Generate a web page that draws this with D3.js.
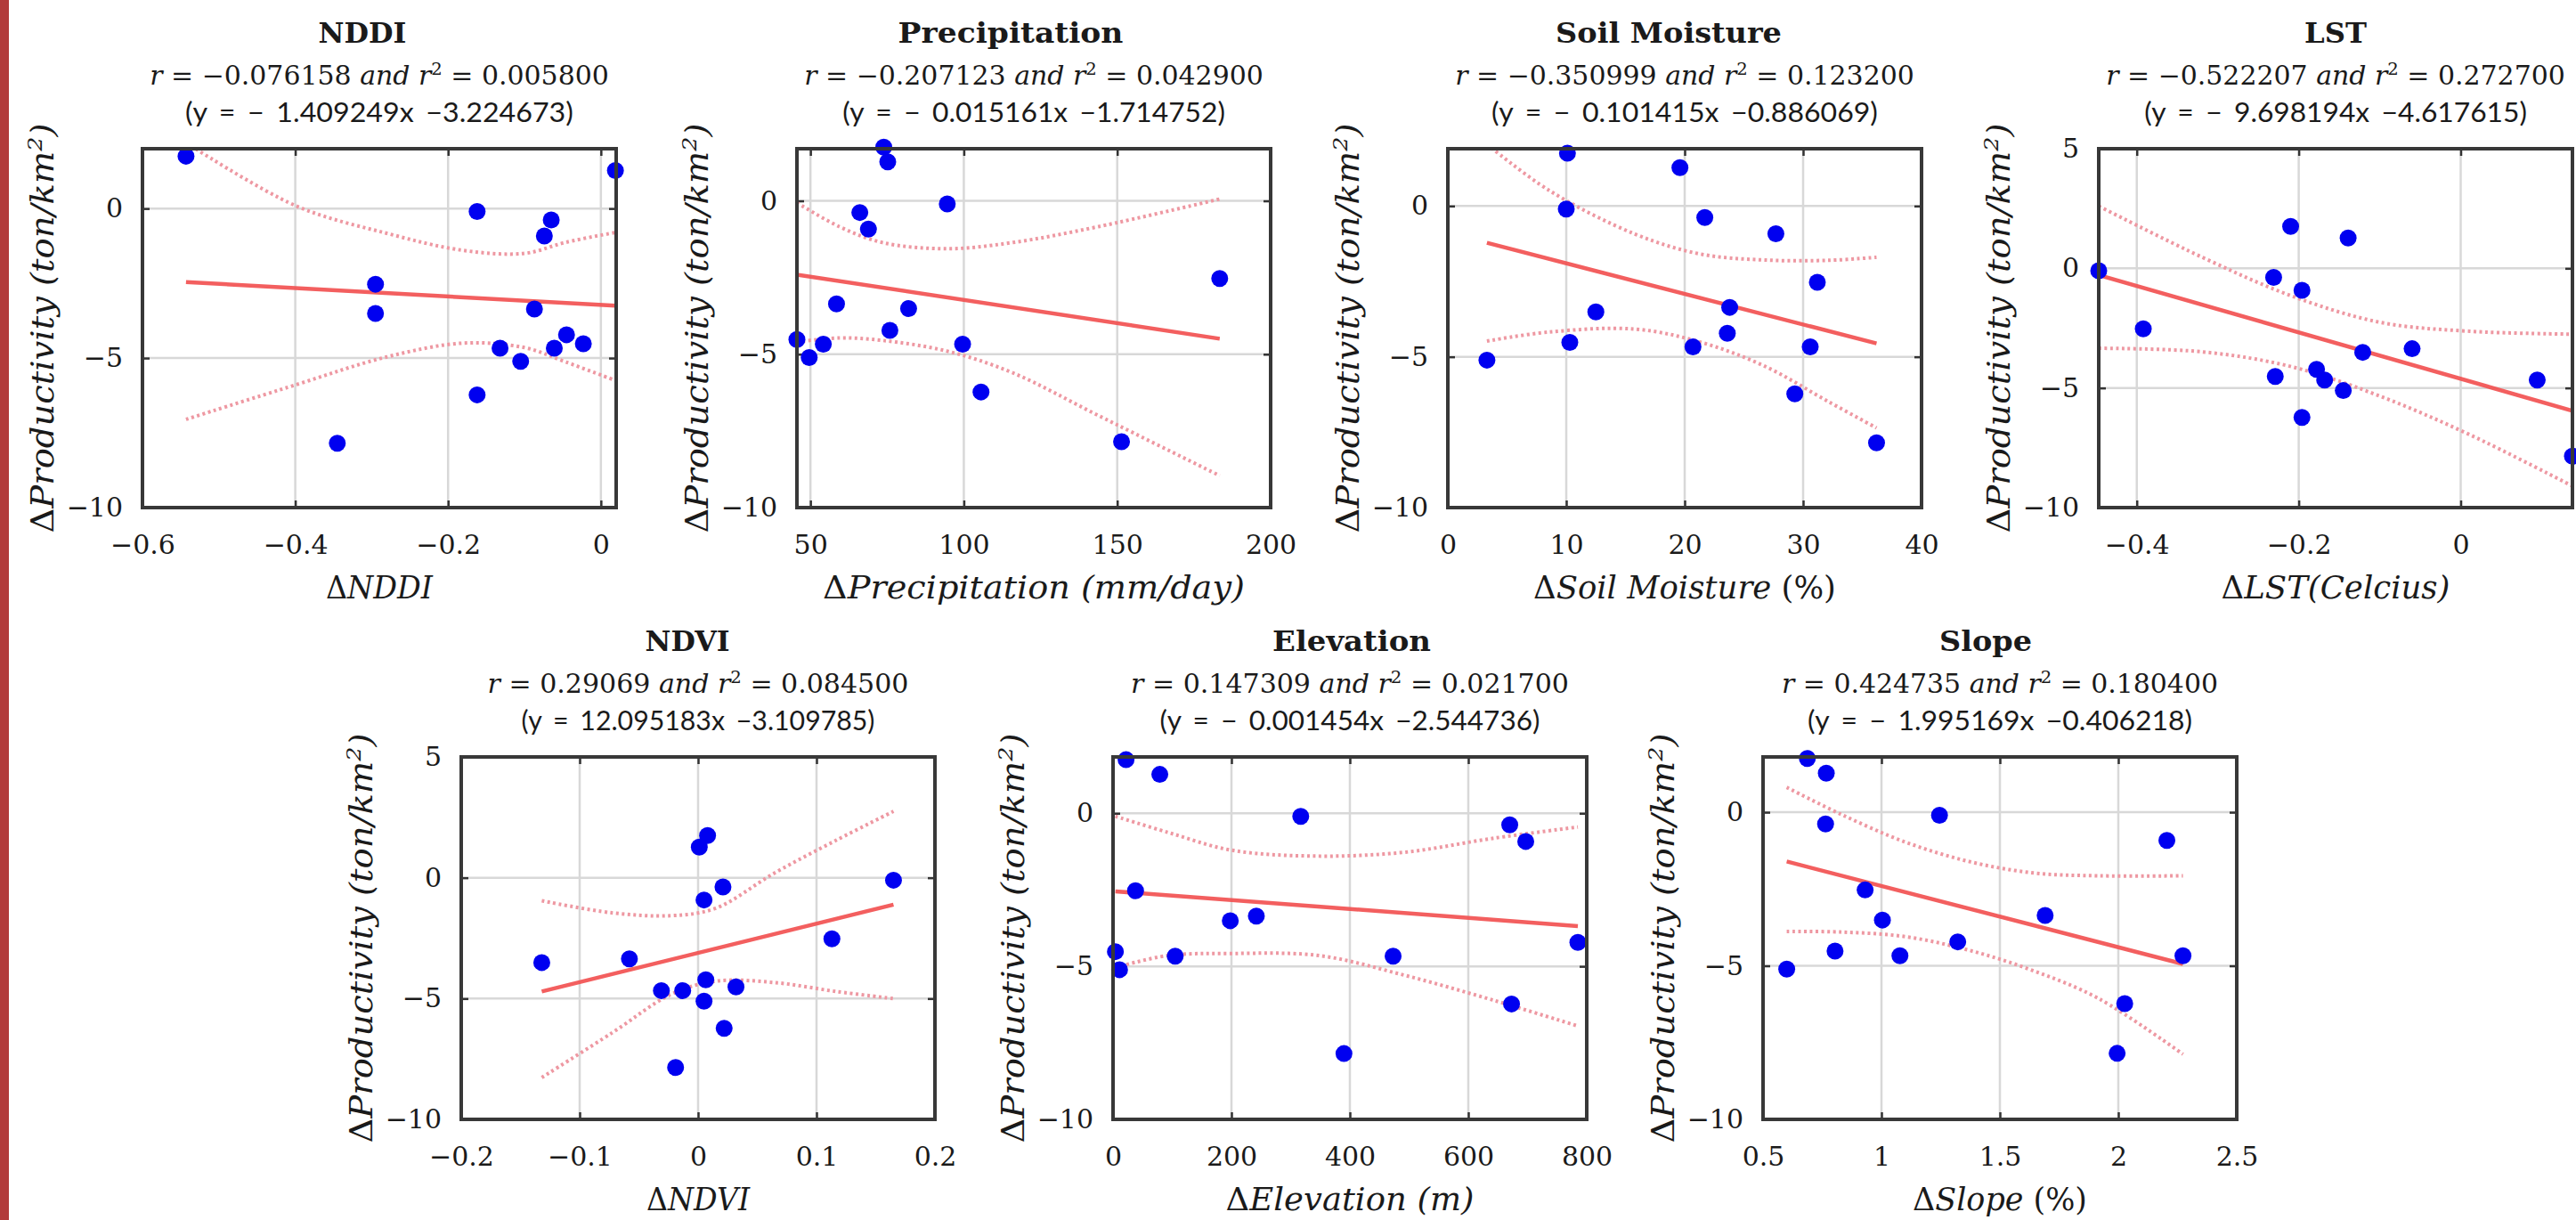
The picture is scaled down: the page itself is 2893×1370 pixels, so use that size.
<!DOCTYPE html>
<html>
<head>
<meta charset="utf-8">
<script src="https://cdn.jsdelivr.net/npm/d3@7"></script>
<style>
  html, body { margin: 0; padding: 0; background: #fff; }
  svg { display: block; }
  text { white-space: pre; }
</style>
</head>
<body>
<div id="chart"></div>
<script>
// ---- values ----
const titles = ["NDDI", "Precipitation", "Soil Moisture", "LST", "NDVI", "Elevation", "Slope"];
const rText = ["−0.076158", "−0.207123", "−0.350999", "−0.522207", "0.29069", "0.147309", "0.424735"];
const r2Text = ["0.005800", "0.042900", "0.123200", "0.272700", "0.084500", "0.021700", "0.180400"];
const slopes = [-1.409249, -0.015161, -0.101415, -9.698194, 12.095183, -0.001454, -1.995169];
const intercepts = [-3.224673, -1.714752, -0.886069, -4.617615, -3.109785, -2.544736, -0.406218];
const xLabelMain = ["NDDI", "Precipitation", "Soil Moisture", "LST", "NDVI", "Elevation", "Slope"];
const xLabelUnit = ["", " (mm/day)", " (%)", "(Celcius)", "", " (m)", " (%)"];

const xDomains = [[-0.6, 0.02], [45.6, 200], [0, 40], [-0.447, 0.138], [-0.2, 0.2], [0, 800], [0.5, 2.5]];
const yDomains = [[-10, 2], [-10, 1.7], [-10, 1.9], [-10, 5], [-10, 5], [-10, 1.84], [-10, 1.8]];
const xTickVals = [[-0.6, -0.4, -0.2, 0], [50, 100, 150, 200], [0, 10, 20, 30, 40], [-0.4, -0.2, 0],
                   [-0.2, -0.1, 0, 0.1, 0.2], [0, 200, 400, 600, 800], [0.5, 1, 1.5, 2, 2.5]];
const yTickVals = [[-10, -5, 0], [-10, -5, 0], [-10, -5, 0], [-10, -5, 0, 5], [-10, -5, 0, 5], [-10, -5, 0], [-10, -5, 0]];

// scatter points (x = change of the variable, y = change of productivity)
const nddiX = [-0.543, 0.019, -0.162, -0.065, -0.074, -0.295, -0.295, -0.087, -0.132, -0.105, -0.045, -0.023, -0.061, -0.162, -0.345];
const nddiY = [1.75, 1.27, -0.10, -0.38, -0.92, -2.53, -3.51, -3.36, -4.67, -5.11, -4.22, -4.52, -4.67, -6.23, -7.85];
const precipX = [73.9, 75.2, 94.6, 66.1, 68.9, 183.4, 58.5, 82.0, 75.9, 45.6, 49.6, 54.2, 99.6, 105.6, 151.4];
const precipY = [1.75, 1.27, -0.10, -0.38, -0.92, -2.53, -3.36, -3.51, -4.22, -4.52, -5.11, -4.67, -4.67, -6.23, -7.85];
const soilX = [10.1, 19.6, 10.0, 21.7, 27.7, 31.2, 12.5, 23.8, 23.6, 3.3, 10.3, 20.7, 30.6, 29.3, 36.2];
const soilY = [1.75, 1.27, -0.10, -0.38, -0.92, -2.53, -3.51, -3.36, -4.22, -5.11, -4.52, -4.67, -4.67, -6.23, -7.85];
const lstX = [-0.210, -0.139, -0.231, -0.196, -0.392, -0.121, -0.060, -0.178, -0.229, -0.168, -0.145, -0.196, 0.0945, 0.138, -0.447];
const lstY = [1.75, 1.27, -0.38, -0.92, -2.53, -3.51, -3.36, -4.22, -4.52, -4.67, -5.11, -6.23, -4.67, -7.85, -0.10];
const ndviX = [0.008, 0.001, 0.021, 0.005, 0.113, -0.132, -0.058, 0.0065, -0.031, -0.013, 0.032, 0.005, 0.022, -0.019, 0.165];
const ndviY = [1.75, 1.27, -0.38, -0.92, -2.53, -3.51, -3.36, -4.22, -4.67, -4.67, -4.52, -5.11, -6.23, -7.85, -0.10];
const elevX = [22, 79, 317, 670, 697, 38, 198, 242, 785, 4, 105, 473, 11, 673, 390];
const elevY = [1.75, 1.27, -0.10, -0.38, -0.92, -2.53, -3.51, -3.36, -4.22, -4.52, -4.67, -4.67, -5.11, -6.23, -7.85];
const slopeX = [0.687, 0.767, 1.245, 0.764, 2.205, 0.931, 1.004, 1.691, 1.322, 0.804, 1.078, 2.273, 0.6, 2.027, 1.995];
const slopeY = [1.75, 1.27, -0.10, -0.38, -0.92, -2.53, -3.51, -3.36, -4.22, -4.52, -4.67, -4.67, -5.11, -6.23, -7.85];

// dotted confidence bounds, read at a few x positions
const nddiBandX = [-0.543, -0.4, -0.28, -0.18, -0.1, -0.046, 0.019];
const nddiBandHi = [2.2, 0.1, -0.83, -1.4, -1.5, -1.13, -0.8];
const nddiBandLo = [-7.05, -5.9, -4.96, -4.5, -4.65, -5.13, -5.75];
const precipBandX = [45.6, 59.4, 73.5, 94.6, 115.8, 143.9, 183.4];
const precipBandHi = [-0.06, -0.84, -1.36, -1.56, -1.36, -0.84, 0.06];
const precipBandLo = [-4.6, -4.47, -4.55, -4.9, -5.6, -7.0, -8.96];
const soilBandX = [3.3, 8.5, 15.8, 21.3, 26.7, 32.2, 36.2];
const soilBandHi = [2.05, 0.53, -0.93, -1.59, -1.79, -1.8, -1.70];
const soilBandLo = [-4.48, -4.18, -4.08, -4.51, -5.3, -6.5, -7.36];
const lstBandX = [-0.447, -0.319, -0.209, -0.099, 0.011, 0.138];
const lstBandHi = [2.6, 0.46, -1.15, -2.26, -2.63, -2.75];
const lstBandLo = [-3.34, -3.49, -4.11, -5.35, -6.95, -9.1];
const ndviBandX = [-0.132, -0.073, -0.023, 0.0145, 0.065, 0.117, 0.165];
const ndviBandHi = [-0.95, -1.45, -1.57, -1.27, 0.21, 1.56, 2.75];
const ndviBandLo = [-8.27, -6.43, -4.83, -4.28, -4.34, -4.71, -5.0];
const elevBandX = [4, 92, 201, 348, 494, 641, 785];
const elevBandHi = [-0.1, -0.62, -1.21, -1.40, -1.27, -0.82, -0.45];
const elevBandLo = [-5.04, -4.65, -4.58, -4.65, -5.3, -6.1, -6.95];
const slopeBandX = [0.6, 0.827, 1.1, 1.373, 1.645, 1.918, 2.273];
const slopeBandHi = [0.81, -0.06, -0.97, -1.61, -1.98, -2.07, -2.07];
const slopeBandLo = [-3.88, -3.9, -4.05, -4.5, -5.17, -6.07, -7.88];

const pointsX = [nddiX, precipX, soilX, lstX, ndviX, elevX, slopeX];
const pointsY = [nddiY, precipY, soilY, lstY, ndviY, elevY, slopeY];
const bandX = [nddiBandX, precipBandX, soilBandX, lstBandX, ndviBandX, elevBandX, slopeBandX];
const bandHi = [nddiBandHi, precipBandHi, soilBandHi, lstBandHi, ndviBandHi, elevBandHi, slopeBandHi];
const bandLo = [nddiBandLo, precipBandLo, soilBandLo, lstBandLo, ndviBandLo, elevBandLo, slopeBandLo];

// ---- layout ----
const width = 2893, height = 1370;
const boxW = 532;
const boxLeft = [160, 895, 1626, 2357, 518, 1250, 1980];
const boxTop = [167, 167, 167, 167, 850, 850, 850];
const boxBottom = [570, 570, 570, 570, 1257, 1257, 1257];
// the source uses a wide math font: texts are stretched to the widths measured on it
const titleDx = [-19, -26, -18, 0, -12, 2, -16];
const titleW = [99, 253, 254, 70, 95, 178, 104];
const subW = [516, 516, 516, 516, 473, 492, 490];
const eqW = [436, 430, 434, 430, 397, 427, 432];
const xLabelW = [120, 474, 340, 257, 116, 279, 196];
const yLabelW = 460;

const serif = "'DejaVu Serif', 'Liberation Serif', serif";
const sans = "Lato, 'Open Sans', sans-serif";
const textColor = "#1a1a1a";
const fmtTick = d3.format("~g");
const fmt6 = d3.format(".6f");

const svg = d3.select("#chart").append("svg")
  .attr("width", width)
  .attr("height", height);

svg.append("rect").attr("width", width).attr("height", height).attr("fill", "#fff");
// dark red margin bar of the page
svg.append("rect").attr("x", 0).attr("y", 0).attr("width", 10).attr("height", height).attr("fill", "#b23a3a");

titles.forEach((t, i) => drawPanel(i));

function newText(parent) {
  const g = parent.append("g");
  const t = g.append("text")
    .attr("text-anchor", "middle")
    .attr("fill", textColor);
  return t;
}

// scale the text horizontally so it spans `target` pixels
function stretch(t, transform, target) {
  const w = t.node().getComputedTextLength() || target;
  d3.select(t.node().parentNode).attr("transform", `${transform} scale(${target / w},1)`);
}

function drawPanel(i) {
  const left = boxLeft[i], top = boxTop[i], bottom = boxBottom[i], right = left + boxW;
  const cx = (left + right) / 2;
  const x = d3.scaleLinear().domain(xDomains[i]).range([left, right]);
  const y = d3.scaleLinear().domain(yDomains[i]).range([bottom, top]);
  const g = svg.append("g");

  g.append("clipPath").attr("id", "clip" + i)
    .append("rect").attr("x", left).attr("y", top).attr("width", boxW).attr("height", bottom - top);

  // grid
  const xd = xDomains[i], yd = yDomains[i];
  g.append("g").selectAll("line")
    .data(xTickVals[i].filter(v => v > xd[0] + 1e-9 && v < xd[1] - 1e-9))
    .join("line")
      .attr("x1", d => x(d)).attr("x2", d => x(d))
      .attr("y1", top).attr("y2", bottom)
      .attr("stroke", "#d8d8d8").attr("stroke-width", 2.5);
  g.append("g").selectAll("line")
    .data(yTickVals[i].filter(v => v > yd[0] + 1e-9 && v < yd[1] - 1e-9))
    .join("line")
      .attr("x1", left).attr("x2", right)
      .attr("y1", d => y(d)).attr("y2", d => y(d))
      .attr("stroke", "#d8d8d8").attr("stroke-width", 2.5);

  // axes with inward ticks
  const styleAxis = sel => {
    sel.select(".domain").remove();
    sel.selectAll(".tick line").attr("stroke", "#333").attr("stroke-width", 2.5);
    sel.selectAll(".tick text")
      .attr("fill", textColor)
      .style("font-family", serif)
      .style("font-size", "30px");
  };
  g.append("g").attr("transform", `translate(0,${bottom})`)
    .call(d3.axisBottom(x).tickValues(xTickVals[i]).tickFormat(fmtTick).tickSizeInner(-8).tickSizeOuter(0).tickPadding(31))
    .call(styleAxis);
  g.append("g").attr("transform", `translate(0,${top})`)
    .call(d3.axisTop(x).tickValues(xTickVals[i]).tickFormat("").tickSizeInner(-8).tickSizeOuter(0))
    .call(styleAxis);
  g.append("g").attr("transform", `translate(${left},0)`)
    .call(d3.axisLeft(y).tickValues(yTickVals[i]).tickFormat(fmtTick).tickSizeInner(-8).tickSizeOuter(0).tickPadding(22))
    .call(styleAxis);
  g.append("g").attr("transform", `translate(${right},0)`)
    .call(d3.axisRight(y).tickValues(yTickVals[i]).tickFormat("").tickSizeInner(-8).tickSizeOuter(0))
    .call(styleAxis);

  const plot = g.append("g").attr("clip-path", `url(#clip${i})`);

  // confidence bounds
  const band = d3.line()
    .curve(d3.curveCatmullRom)
    .x(d => x(d[0]))
    .y(d => y(d[1]));
  const bx = bandX[i];
  [bandHi[i], bandLo[i]].forEach(arr => {
    plot.append("path")
      .attr("d", band(bx.map((v, k) => [v, arr[k]])))
      .attr("fill", "none")
      .attr("stroke", "#ee98a2")
      .attr("stroke-width", 4)
      .attr("stroke-dasharray", "3 3.5");
  });

  // points
  g.append("g").selectAll("circle")
    .data(d3.range(pointsX[i].length))
    .join("circle")
      .attr("cx", k => x(pointsX[i][k]))
      .attr("cy", k => y(pointsY[i][k]))
      .attr("r", 9.5)
      .attr("fill", "#0000f0");

  // fitted line
  const x0 = d3.min(pointsX[i]), x1 = d3.max(pointsX[i]);
  const fit = v => slopes[i] * v + intercepts[i];
  plot.append("line")
    .attr("x1", x(x0)).attr("y1", y(fit(x0)))
    .attr("x2", x(x1)).attr("y2", y(fit(x1)))
    .attr("stroke", "#f25252")
    .attr("stroke-width", 4.5)
    .attr("opacity", 0.92);

  // box
  g.append("rect")
    .attr("x", left).attr("y", top)
    .attr("width", boxW).attr("height", bottom - top)
    .attr("fill", "none")
    .attr("stroke", "#383838")
    .attr("stroke-width", 4);

  // title block
  const ti = newText(g)
    .style("font-family", serif).style("font-weight", "bold").style("font-size", "31px")
    .text(titles[i]);
  stretch(ti, `translate(${cx + titleDx[i]},${top - 119})`, titleW[i]);

  const sub = newText(g)
    .style("font-family", serif).style("font-size", "29px");
  sub.append("tspan").style("font-style", "italic").text("r");
  sub.append("tspan").text(" = " + rText[i] + " ");
  sub.append("tspan").style("font-style", "italic").text("and r");
  sub.append("tspan").attr("baseline-shift", "super").style("font-size", "19px").text("2");
  sub.append("tspan").text(" = " + r2Text[i]);
  stretch(sub, `translate(${cx},${top - 72})`, subW[i]);

  const s = slopes[i];
  const eq = "(y = " + (s < 0 ? "− " + fmt6(-s) : fmt6(s)) + "x −" + fmt6(-intercepts[i]) + ")";
  const eqt = newText(g)
    .style("font-family", sans).style("font-size", "30px").style("word-spacing", "5px")
    .text(eq);
  stretch(eqt, `translate(${cx},${top - 30})`, eqW[i]);

  // x label
  const xl = newText(g)
    .style("font-family", serif).style("font-size", "35px");
  xl.append("tspan").text("Δ");
  xl.append("tspan").style("font-style", "italic").text(xLabelMain[i]);
  if (xLabelUnit[i]) {
    xl.append("tspan")
      .style("font-style", xLabelUnit[i].includes("%") ? "normal" : "italic")
      .text(xLabelUnit[i]);
  }
  stretch(xl, `translate(${cx},${bottom + 102})`, xLabelW[i]);

  // y label
  const yl = newText(g)
    .style("font-family", serif).style("font-size", "35px");
  yl.append("tspan").text("Δ");
  yl.append("tspan").style("font-style", "italic").text("Productivity (ton/km");
  yl.append("tspan").attr("baseline-shift", "super").style("font-size", "23px").style("font-style", "italic").text("2");
  yl.append("tspan").style("font-style", "italic").text(")");
  stretch(yl, `translate(${left - 100},${(top + bottom) / 2}) rotate(-90)`, yLabelW);
}
</script>
</body>
</html>
